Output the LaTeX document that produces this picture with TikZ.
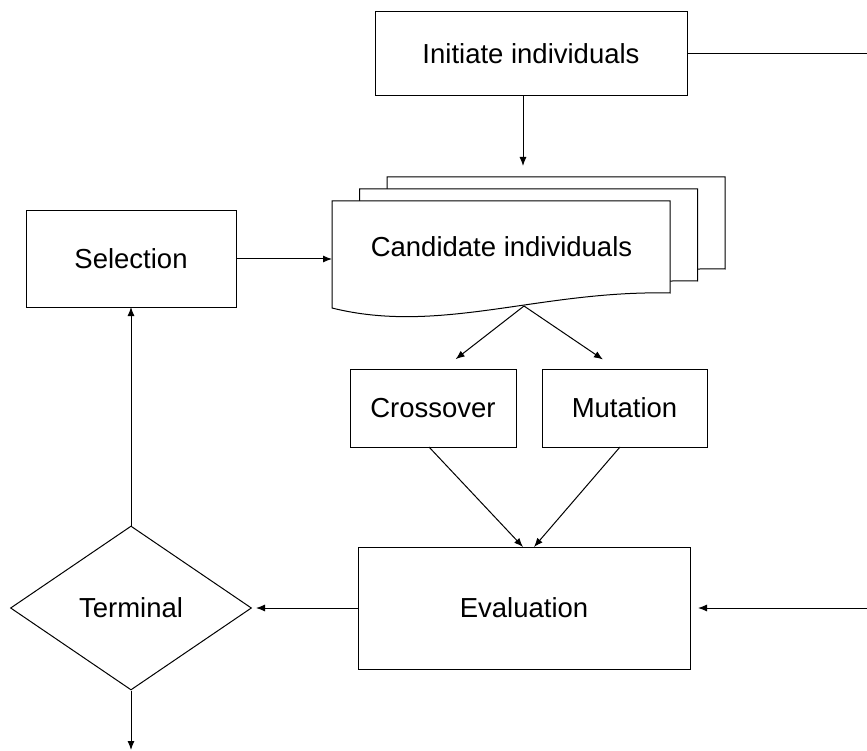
\documentclass[tikz,border=0pt]{standalone}
\usepackage{fontspec}
\setmainfont{Liberation Sans}
\usetikzlibrary{shapes.geometric,arrows.meta}
\tikzset{mybox/.style={draw,rectangle,inner sep=0,outer sep=0},
  myarrow/.style={-{Latex[length=9pt,width=7pt]}}}

\begin{document}
\begin{tikzpicture}[x=1pt,y=-1pt,line width=1pt,font=\fontsize{27.5}{33}\selectfont]
 \useasboundingbox (0,0) rectangle (867,751);
 \foreach \d in {2,1,0}{
     \draw[fill=white,shift={(\d*27.5,-\d*12)}] (332,308) -- (332,201) -- (670,201) -- (670,293)
       .. controls (540,290) and (440,335) .. (332,308) -- cycle;
 }
 \node[mybox,minimum width=312pt,minimum height=84pt] (init) at (531,54) {Initiate individuals};
 \node[mybox,minimum width=210pt,minimum height=96pt] (sel) at (131,259) {Selection};
 \node[anchor=west,minimum width=338pt,inner sep=0] (cand) at (332,247) {Candidate individuals};
 \node[mybox,minimum width=166pt,minimum height=78pt] (cross) at (433,408) {Crossover};
 \node[mybox,minimum width=165pt,minimum height=78pt] (mut) at (624.5,408) {Mutation};
 \node[mybox,minimum width=332pt,minimum height=122pt] (eval) at (524,608) {Evaluation};
 \node[draw,diamond,inner sep=0,minimum width=241pt,minimum height=164pt] (term) at (131,608) {Terminal};
 \coordinate (initout) at (867,54);
 \coordinate (candtop) at (523,166);
 \coordinate (candbot) at (524,306);
 \coordinate (evalin) at (867,608);
 \coordinate (termout) at (131,750);
 \draw (init) -- (initout);
 \draw[myarrow] (init.south -| candtop) -- (candtop);
 \draw[myarrow] (sel.east) -- (sel.east -| cand.west);
 \draw[myarrow,shorten >=16pt] (candbot) -- ([xshift=10pt]cross.north);
 \draw[myarrow,shorten >=17pt] (candbot) -- ([xshift=-7.5pt]mut.north);
 \draw[myarrow] ([xshift=-4pt]cross.south) -- ([xshift=-1pt]eval.north);
 \draw[myarrow] ([xshift=-4.5pt]mut.south) -- ([xshift=10pt]eval.north);
 \draw[myarrow,shorten >=8pt] (evalin) -- (eval.east);
 \draw[myarrow,shorten >=4pt] (eval.west) -- (term.east);
 \draw[myarrow] (term.north) -- (sel.south);
 \draw[myarrow] (term.south) -- (termout);
\end{tikzpicture}
\end{document}
